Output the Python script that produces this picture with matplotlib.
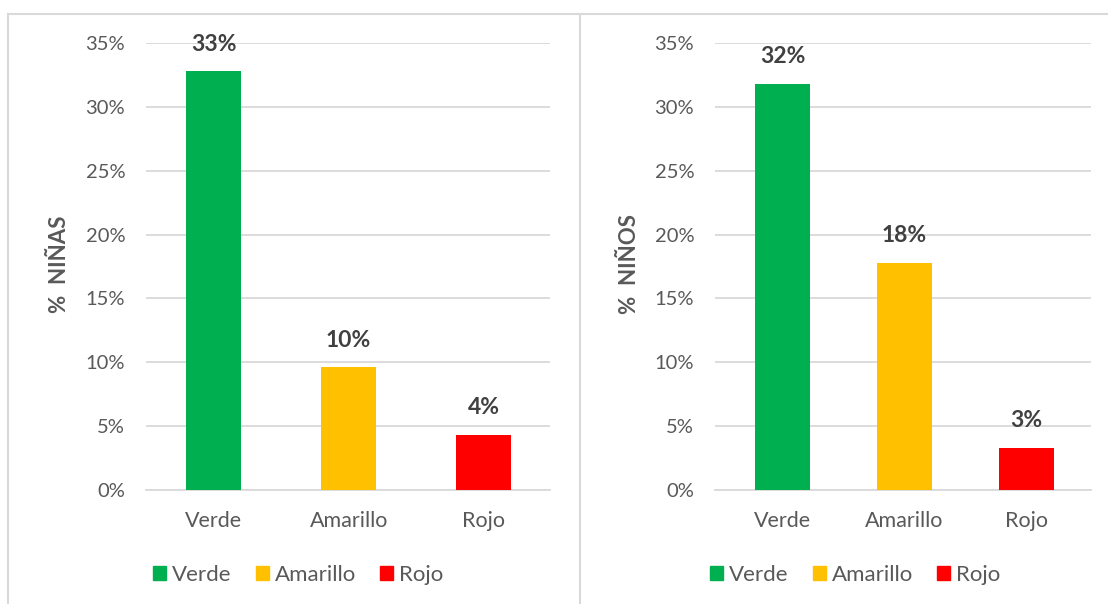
import matplotlib.pyplot as plt
from matplotlib.lines import Line2D
from matplotlib.patches import Patch

categorias = ['Verde', 'Amarillo', 'Rojo']
colores = ['#00B050', '#FFC000', '#FF0000']
ninas = [0.328, 0.096, 0.043]
ninos = [0.318, 0.178, 0.033]
yticks = [0, 0.05, 0.10, 0.15, 0.20, 0.25, 0.30, 0.35]

W, H = 1108, 604
plt.rcParams['font.family'] = ['Lato', 'DejaVu Sans']
gris = '#595959'
linea = '#D9D9D9'

fig = plt.figure(figsize=(W / 100, H / 100), dpi=100)


def px(x0, y0, x1, y1):
    return [x0 / W, 1 - y1 / H, (x1 - x0) / W, (y1 - y0) / H]


def panel(rect, xlim, valores, titulo, ancho, ylab_x, leg_x):
    ax = fig.add_axes(px(*rect))
    x = range(len(categorias))
    ax.bar(x, valores, width=ancho, color=colores, zorder=3)
    ax.set_ylim(0, 0.35)
    ax.set_xlim(*xlim)
    ax.set_yticks(yticks)
    ax.set_yticklabels([f'{t * 100:.0f}%' for t in yticks])
    ax.set_xticks(list(x))
    ax.set_xticklabels(categorias)
    ax.tick_params(axis='y', length=0, pad=15, labelsize=14.5, labelcolor=gris)
    ax.tick_params(axis='x', length=0, pad=15, labelsize=15.5, labelcolor=gris)
    ax.grid(axis='y', color=linea, lw=1.3, zorder=0)
    for s in ['top', 'right', 'left']:
        ax.spines[s].set_visible(False)
    ax.spines['bottom'].set_color(linea)
    ax.spines['bottom'].set_linewidth(1.3)
    for i, v in enumerate(valores):
        ax.annotate(f'{v * 100:.0f}%', (i, v), xytext=(0, 19.5), textcoords='offset points',
                    ha='center', va='center', fontsize=16.5, fontweight='bold', color='#404040')
    fig.text(ylab_x / W, 1 - 264 / H, titulo, rotation=90, ha='center', va='center',
             fontsize=16, fontweight='bold', color=gris)
    handles = [Patch(color=c, label=l) for c, l in zip(colores, categorias)]
    fig.legend(handles=handles, loc='center', bbox_to_anchor=(leg_x / W, 1 - 575 / H),
               ncol=3, frameon=False, fontsize=16, labelcolor=gris,
               handlelength=0.6, handleheight=0.6, handletextpad=0.25, columnspacing=1.1)
    return ax


panel((146, 43, 550, 490), (-0.5, 2.49), ninas, '%  NIÑAS', 0.41, 60, 298)
panel((715, 43, 1091, 490), (-0.553, 2.529), ninos, '%  NIÑOS', 0.45, 630, 855)

# marcos de los dos gráficos
for xs, ys in [((8, 1108), (14, 14)), ((8, 8), (14, 604)), ((580, 580), (14, 604))]:
    fig.add_artist(Line2D([x / W for x in xs], [1 - y / H for y in ys],
                          color=linea, lw=1.5, transform=fig.transFigure))

fig.savefig('out.png', dpi=100)
